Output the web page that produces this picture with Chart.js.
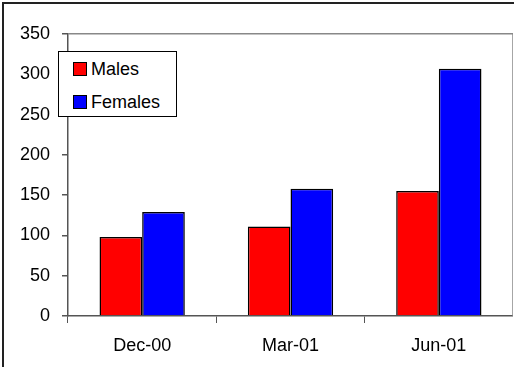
<!DOCTYPE html>
<html>
<head>
<meta charset="utf-8">
<script src="https://cdn.jsdelivr.net/npm/chart.js@4/dist/chart.umd.min.js"></script>
<style>
  body { margin: 0; background: #fff; }
  #wrap { position: relative; width: 514px; height: 367px; overflow: hidden; }
  #frame { position: absolute; left: 2px; top: 2px; width: 530px; height: 380px; border: 2px solid #222; box-sizing: border-box; }
  canvas { position: absolute; left: 0; top: 0; }
  #legend { position: absolute; left: 58px; top: 51px; width: 119px; height: 66px; border: 1px solid #000;
            background: #fff; box-sizing: border-box; font: 18px "Liberation Sans", Arial, sans-serif; }
  .item { position: absolute; left: 14px; height: 20px; line-height: 20px; }
  .sw { display: inline-block; width: 12px; height: 12px; border: 1.5px solid #000; vertical-align: -1px; margin-right: 4px; }
</style>
</head>
<body>
<div id="wrap">
  <div id="frame"></div>
  <canvas id="chart" width="513" height="367"></canvas>
  <div id="legend"></div>
</div>
<script>
// chart data
const categories = ['Dec-00', 'Mar-01', 'Jun-01'];
const males = [98, 111, 155];
const females = [129, 158, 307];
const seriesNames = ['Males', 'Females'];
const seriesColors = ['#ff0000', '#0000ff'];

// legend box (floats inside the plot like the original)
const legend = document.getElementById('legend');
seriesNames.forEach(function(name, i) {
    const el = document.createElement('div');
    el.className = 'item';
    el.style.top = (7 + i * 33) + 'px';
    el.innerHTML = '<span class="sw" style="background:' + seriesColors[i] + '"></span>' + name;
    legend.appendChild(el);
});

// grey line on the right side of the plot area
const plotFrame = {
    id: 'plotFrame',
    afterDraw(chart) {
        const a = chart.chartArea;
        const c = chart.ctx;
        c.save();
        c.strokeStyle = '#888';
        c.lineWidth = 1.5;
        c.beginPath();
        c.moveTo(a.right, a.top);
        c.lineTo(a.right, a.bottom);
        c.stroke();
        c.restore();
    }
};

const ctx = document.getElementById('chart').getContext('2d');
const chart = new Chart(ctx, {
    type: 'bar',
    data: {
        labels: categories,
        datasets: [{
            label: seriesNames[0],
            data: males,
            backgroundColor: seriesColors[0],
            borderColor: '#000',
            borderWidth: 1.5,
            categoryPercentage: 0.575,
            barPercentage: 1
        }, {
            label: seriesNames[1],
            data: females,
            backgroundColor: seriesColors[1],
            borderColor: '#000',
            borderWidth: 1.5,
            categoryPercentage: 0.575,
            barPercentage: 1
        }]
    },
    options: {
        responsive: false,
        animation: false,
        layout: { padding: { left: 0, right: 0, top: 34, bottom: 0 } },
        plugins: {
            legend: { display: false },
            tooltip: { enabled: false }
        },
        scales: {
            x: {
                offset: true,
                grid: { offset: true, drawOnChartArea: false, color: '#555', tickLength: 7 },
                border: { color: '#555', width: 1.5 },
                ticks: { color: '#000', font: { family: 'Liberation Sans', size: 18 }, padding: 12 },
                afterFit: function(scale) { scale.height = 51; }
            },
            y: {
                min: 0,
                max: 350,
                ticks: { stepSize: 50, color: '#000', font: { family: 'Liberation Sans', size: 18 }, padding: 12 },
                grid: {
                    color: function(c) { return c.tick && c.tick.value === 350 ? '#888' : 'rgba(0,0,0,0)'; },
                    lineWidth: 1.5,
                    tickColor: '#555',
                    tickLength: 6
                },
                border: { color: '#555', width: 1.5 },
                afterFit: function(scale) { scale.width = 68; }
            }
        }
    },
    plugins: [plotFrame]
});
</script>
</body>
</html>
